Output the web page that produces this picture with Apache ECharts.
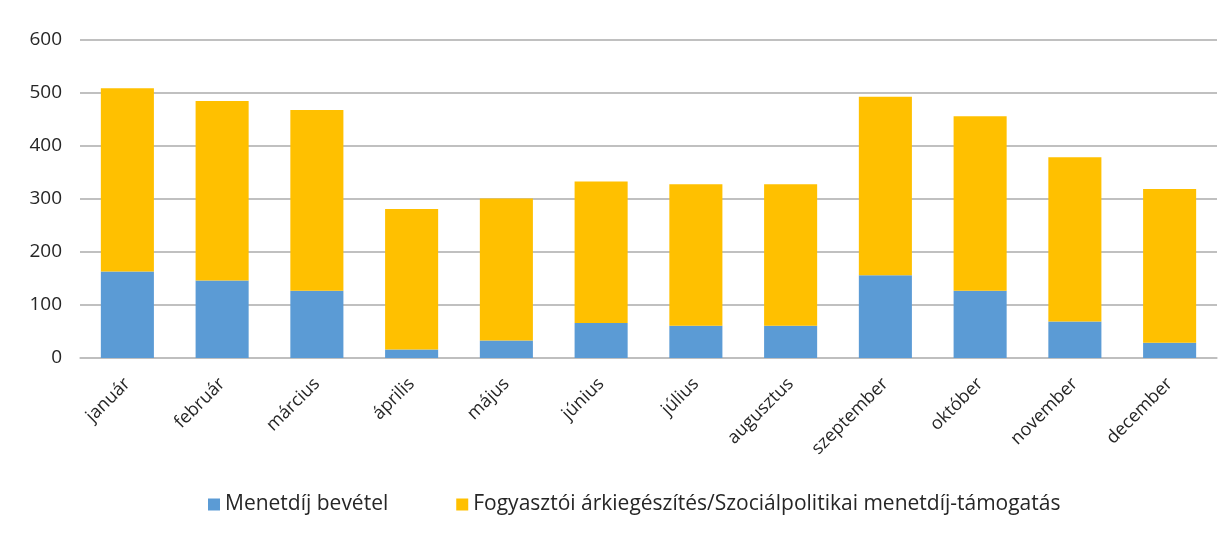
<!DOCTYPE html>
<html>
<head>
<meta charset="utf-8">
<script src="https://cdn.jsdelivr.net/npm/echarts@6/dist/echarts.min.js"></script>
<style>
html,body{margin:0;padding:0;background:#fff;}
#chart{width:1232px;height:533px;}
</style>
</head>
<body>
<div id="chart"></div>
<script>
const categories = ['január','február','március','április','május','június','július','augusztus','szeptember','október','november','december'];
const seriesNames = ['Menetdíj bevétel','Fogyasztói árkiegészítés/Szociálpolitikai menetdíj-támogatás'];
const fareRevenue = [163,146,127,16,33,66,61,61,156,127,69,29];
const subsidy = [346,339,341,265,268,267,267,267,337,329,310,290];
const yTicks = [0,100,200,300,400,500,600];

const chart = echarts.init(document.getElementById('chart'));
const font = "'Open Sans', 'Liberation Sans', Arial, sans-serif";
const txt = '#262626';
chart.setOption({
  animation:false,
  textStyle:{fontFamily:font},
  grid:{left:80,right:15,top:40,bottom:175},
  legend:{
    bottom:13, left:203,
    itemGap:68, itemWidth:12, itemHeight:12, icon:'rect',
    textStyle:{fontSize:21,color:txt,fontFamily:font},
    data:seriesNames
  },
  xAxis:{
    type:'category', data:categories,
    axisLine:{show:true,lineStyle:{color:'#BFBFBF',width:1.5}},
    axisTick:{show:false},
    axisLabel:{rotate:45,fontSize:18,color:txt,margin:23,interval:0}
  },
  yAxis:{
    type:'value', min:yTicks[0], max:yTicks[yTicks.length-1], interval:100,
    axisLine:{show:false}, axisTick:{show:false},
    axisLabel:{fontSize:19,color:txt,margin:18},
    splitLine:{lineStyle:{color:'#ABABAB',width:1.5}}
  },
  series:[
    {name:seriesNames[0],type:'bar',stack:'s',data:fareRevenue,barWidth:'56%',itemStyle:{color:'#5B9BD5'}},
    {name:seriesNames[1],type:'bar',stack:'s',data:subsidy,barWidth:'56%',itemStyle:{color:'#FFC000'}}
  ]
});
</script>
</body>
</html>
